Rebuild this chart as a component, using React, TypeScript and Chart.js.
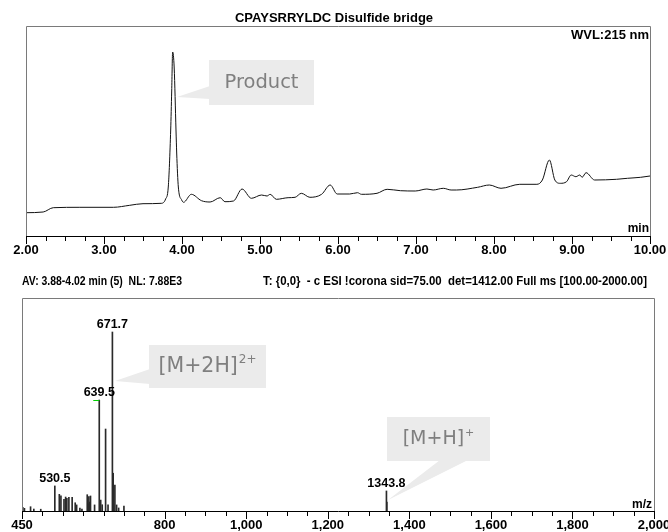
import React, { useEffect, useRef } from 'react';
import { Chart, registerables } from 'chart.js';

Chart.register(...registerables);

// ---------- Chromatogram (UV 215 nm) ----------
const chromTime = [
  2.0, 2.22, 2.35, 2.69, 3.12, 3.33, 3.5, 3.74, 3.79, 3.824, 3.855, 3.868, 3.88, 3.9, 3.923, 3.932, 3.953, 3.996,
  4.02, 4.12, 4.25, 4.36, 4.49, 4.55, 4.66, 4.77, 4.89, 5.02, 5.09, 5.13, 5.21, 5.36, 5.45, 5.53, 5.64, 5.79,
  5.9, 5.99, 6.15, 6.25, 6.3, 6.5, 6.63, 6.8, 6.99, 7.14, 7.22, 7.35, 7.45, 7.52, 7.79, 7.94, 8.09, 8.33, 8.55,
  8.62, 8.71, 8.78, 8.85, 8.93, 8.99, 9.05, 9.1, 9.13, 9.18, 9.29, 9.57, 9.71, 9.88, 10.0,
];
const chromSignal = [
  23.3, 24, 28.3, 28.7, 28.7, 30.7, 32.3, 32.7, 37, 49, 106, 145, 184, 168, 106, 83, 49, 36,
  33.7, 41.7, 35.3, 34, 38.3, 34.3, 35, 47, 37.7, 41, 40, 41.7, 36.7, 38.3, 38.7, 42.7, 38.7, 41.7,
  51, 42, 42, 43.3, 41.7, 42.7, 46.7, 45.3, 45, 47, 46, 47.7, 46, 46, 48.7, 51, 47.7, 51.7, 51.7,
  56, 76, 56, 52.7, 54.3, 61, 59.3, 61, 58.7, 63.3, 56, 56.7, 57.7, 58.7, 60,
];
const timeMajorTicks = [2, 3, 4, 5, 6, 7, 8, 9, 10];

// ---------- Mass spectrum ----------
const mzValues = [
  452, 456, 471, 479, 496, 530.5, 541.5, 545.5, 553, 557, 560, 565, 573, 580.5, 584, 592, 597,
  610, 612, 614, 616, 618, 628, 639.5, 643, 646.7, 655, 661, 671.7, 673.6, 677.8, 682, 687, 700,
  1343.8, 1344.8,
];
const mzAbundance = [
  2.1, 1.5, 2.4, 1.1, 1.0, 14.0, 9.3, 8.5, 6.5, 7.8, 7.1, 7.6, 7.6, 4.6, 3.4, 1.7, 1.1,
  9.1, 4.0, 8.0, 5.0, 8.4, 3.4, 62.0, 6.1, 3.5, 45.8, 3.4, 100, 21.1, 14.5, 3.4, 1.7, 2.8,
  11.2, 5.0,
];
const labelledPeaks = [530.5, 639.5, 671.7, 1343.8];
const mzMajorTicks = [450, 800, 1000, 1200, 1400, 1600, 1800, 2000];

const TITLE = 'CPAYSRRYLDC Disulfide bridge';
const WVL_LABEL = 'WVL:215 nm';
const HEADER_LEFT = 'AV: 3.88-4.02 min (5)  NL: 7.88E3';
const HEADER_RIGHT = 'T: {0,0}  - c ESI !corona sid=75.00  det=1412.00 Full ms [100.00-2000.00]';

const BOLD = "'Liberation Sans', Arial, sans-serif";
const CALLOUT_FONT = "'DejaVu Sans', Verdana, sans-serif";
const BORDER = '#7a7a7a';
const BOX = '#ebebeb';
const CALLOUT_TEXT = '#7f7f7f';

function drawText(ctx: CanvasRenderingContext2D, s: string, x: number, y: number, font: string,
  align: CanvasTextAlign, color = '#000', maxWidth?: number) {
  ctx.save();
  ctx.font = font;
  ctx.fillStyle = color;
  ctx.textAlign = align;
  ctx.textBaseline = 'middle';
  if (maxWidth) ctx.fillText(s, x, y, maxWidth); else ctx.fillText(s, x, y);
  ctx.restore();
}

function drawFrame(ctx: CanvasRenderingContext2D, a: any) {
  ctx.save();
  ctx.strokeStyle = BORDER;
  ctx.lineWidth = 1;
  ctx.beginPath();
  ctx.moveTo(Math.round(a.left) + 0.5, Math.round(a.bottom));
  ctx.lineTo(Math.round(a.left) + 0.5, Math.round(a.top) + 0.5);
  ctx.lineTo(Math.round(a.right) + 0.5, Math.round(a.top) + 0.5);
  ctx.lineTo(Math.round(a.right) + 0.5, Math.round(a.bottom));
  ctx.stroke();
  ctx.restore();
}

function drawTicks(ctx: CanvasRenderingContext2D, scale: any, bottom: number, majors: number[]) {
  ctx.save();
  ctx.strokeStyle = '#000';
  ctx.lineWidth = 1;
  ctx.beginPath();
  for (const t of scale.ticks) {
    const px = Math.round(scale.getPixelForValue(t.value)) + 0.5;
    const isMajor = majors.some((m) => Math.abs(m - t.value) < 1e-6);
    const len = isMajor ? 8 : 5;
    ctx.moveTo(px, Math.round(bottom));
    ctx.lineTo(px, Math.round(bottom) + len);
  }
  ctx.stroke();
  ctx.restore();
}

function drawCallout(ctx: CanvasRenderingContext2D, box: number[], wedge: number[][],
  parts: { text: string; sup?: string; size: number }) {
  const [x1, y1, x2, y2] = box.map(Math.round);
  ctx.save();
  ctx.fillStyle = BOX;
  ctx.beginPath();
  ctx.moveTo(wedge[0][0], wedge[0][1]);
  ctx.lineTo(wedge[1][0], wedge[1][1]);
  ctx.lineTo(wedge[2][0], wedge[2][1]);
  ctx.closePath();
  ctx.fill();
  ctx.fillRect(x1, y1, x2 - x1, y2 - y1);
  const mainFont = `${parts.size}px ${CALLOUT_FONT}`;
  const supFont = `${Math.round(parts.size * 0.6)}px ${CALLOUT_FONT}`;
  ctx.font = mainFont;
  const w1 = ctx.measureText(parts.text).width;
  ctx.font = supFont;
  const w2 = parts.sup ? ctx.measureText(parts.sup).width + 1 : 0;
  const total = w1 + w2;
  const cx = (x1 + x2) / 2;
  const cy = (y1 + y2) / 2;
  ctx.fillStyle = CALLOUT_TEXT;
  ctx.textBaseline = 'middle';
  ctx.textAlign = 'left';
  ctx.font = mainFont;
  ctx.fillText(parts.text, cx - total / 2, cy);
  if (parts.sup) {
    ctx.font = supFont;
    ctx.fillText(parts.sup, cx - total / 2 + w1 + 1, cy - parts.size * 0.33);
  }
  ctx.restore();
}

const chromPlugin = {
  id: 'chromDecor',
  afterDraw(chart: any) {
    const { ctx, chartArea: a, scales } = chart;
    const x = scales.x;
    const y = scales.y;
    drawFrame(ctx, a);
    drawTicks(ctx, x, a.bottom, timeMajorTicks);
    drawText(ctx, TITLE, chart.width / 2, a.top - 8, `bold 13px ${BOLD}`, 'center');
    drawText(ctx, WVL_LABEL, a.right - 1, a.top + 9, `bold 13px ${BOLD}`, 'right');
    drawText(ctx, 'min', a.right - 1, a.bottom - 7.5, `bold 12px ${BOLD}`, 'right');
    // "Product" callout
    const bx1 = x.getPixelForValue(4.346);
    const bx2 = x.getPixelForValue(5.692);
    const by1 = y.getPixelForValue(176);
    const by2 = y.getPixelForValue(131);
    drawCallout(ctx, [bx1, by1, bx2, by2], [
      [bx1 + 1, y.getPixelForValue(150)],
      [bx1 + 1, y.getPixelForValue(137)],
      [x.getPixelForValue(3.936), y.getPixelForValue(139)],
    ], { text: 'Product', size: 19.5 });
  },
};

const msPlugin = {
  id: 'msDecor',
  afterDraw(chart: any) {
    const { ctx, chartArea: a, scales } = chart;
    const x = scales.x;
    const y = scales.y;
    drawFrame(ctx, a);
    drawTicks(ctx, x, a.bottom, mzMajorTicks);
    drawText(ctx, HEADER_LEFT, a.left, a.top - 16, `bold 12px ${BOLD}`, 'left', '#000', 160);
    drawText(ctx, HEADER_RIGHT, a.left + 241, a.top - 16, `bold 12px ${BOLD}`, 'left', '#000', 384);
    drawText(ctx, 'm/z', a.right - 2, a.bottom - 6, `bold 12px ${BOLD}`, 'right');
    const meta = chart.getDatasetMeta(0);
    for (const mz of labelledPeaks) {
      const i = mzValues.indexOf(mz);
      const el = meta.data[i];
      drawText(ctx, mz.toFixed(1), el.x, el.y - 7, `bold 12.5px ${BOLD}`, 'center');
      if (mz === 639.5) {
        ctx.save();
        ctx.strokeStyle = '#00d000';
        ctx.lineWidth = 1;
        ctx.beginPath();
        ctx.moveTo(el.x - 6, Math.round(el.y) + 0.5);
        ctx.lineTo(el.x, Math.round(el.y) + 0.5);
        ctx.stroke();
        ctx.restore();
      }
    }
    // [M+2H]2+ callout
    const ax1 = x.getPixelForValue(761.5);
    const ax2 = x.getPixelForValue(1048.4);
    const ay1 = y.getPixelForValue(92.7);
    const ay2 = y.getPixelForValue(68.7);
    drawCallout(ctx, [ax1, ay1, ax2, ay2], [
      [ax1 + 1, y.getPixelForValue(79.3)],
      [ax1 + 1, y.getPixelForValue(70.9)],
      [x.getPixelForValue(678.1), y.getPixelForValue(72.6)],
    ], { text: '[M+2H]', sup: '2+', size: 20.5 });
    // [M+H]+ callout
    const cx1 = x.getPixelForValue(1345.2);
    const cx2 = x.getPixelForValue(1597.8);
    const cy1 = y.getPixelForValue(52.5);
    const cy2 = y.getPixelForValue(27.9);
    drawCallout(ctx, [cx1, cy1, cx2, cy2], [
      [x.getPixelForValue(1475.2), cy2 - 1],
      [x.getPixelForValue(1543.9), cy2 - 1],
      [x.getPixelForValue(1347.6), y.getPixelForValue(6.1)],
    ], { text: '[M+H]', sup: '+', size: 19 });
  },
};

function zeroPad(scale: any) {
  scale.paddingLeft = 0;
  scale.paddingRight = 0;
}

export default function App() {
  const topRef = useRef<HTMLCanvasElement | null>(null);
  const botRef = useRef<HTMLCanvasElement | null>(null);

  useEffect(() => {
    const topTicks: number[] = [];
    for (let v = 2; v <= 10.0001; v += 0.25) topTicks.push(Math.round(v * 100) / 100);
    const botTicks: number[] = [450];
    for (let v = 500; v <= 2000; v += 50) botTicks.push(v);

    const c1 = new Chart(topRef.current as HTMLCanvasElement, {
      type: 'line',
      data: {
        datasets: [{
          data: chromTime.map((t, i) => ({ x: t, y: chromSignal[i] })),
          borderColor: '#111',
          borderWidth: 1,
          pointRadius: 0,
          fill: false,
          cubicInterpolationMode: 'monotone',
        }],
      },
      options: {
        animation: false,
        responsive: false,
        layout: { padding: { top: 26, left: 26, right: 18, bottom: 0 } },
        plugins: { legend: { display: false }, tooltip: { enabled: false }, title: { display: false } },
        scales: {
          x: {
            type: 'linear', min: 2, max: 10,
            afterBuildTicks: (s: any) => { s.ticks = topTicks.map((v) => ({ value: v })); },
            afterFit: (s: any) => { s.height = 26; zeroPad(s); },
            ticks: {
              autoSkip: false, maxRotation: 0, padding: 7, color: '#000',
              font: { family: BOLD, size: 13, weight: 'bold' },
              callback: (v: any) => (timeMajorTicks.includes(Number(v)) ? Number(v).toFixed(2) : ''),
            },
            grid: { display: false, drawTicks: false },
            border: { display: true, color: '#000', width: 1 },
          },
          y: { display: false, min: 0, max: 210 },
        },
      } as any,
      plugins: [chromPlugin],
    });

    const c2 = new Chart(botRef.current as HTMLCanvasElement, {
      type: 'bar',
      data: {
        datasets: [{
          data: mzValues.map((m, i) => ({ x: m, y: mzAbundance[i] })),
          backgroundColor: '#2a2a2a',
          borderWidth: 0,
          barThickness: 1,
        }],
      },
      options: {
        animation: false,
        responsive: false,
        layout: { padding: { top: 36, left: 22, right: 14, bottom: 0 } },
        plugins: { legend: { display: false }, tooltip: { enabled: false }, title: { display: false } },
        scales: {
          x: {
            type: 'linear', min: 450, max: 2000, offset: false,
            afterBuildTicks: (s: any) => { s.ticks = botTicks.map((v) => ({ value: v })); },
            afterFit: (s: any) => { s.height = 21; zeroPad(s); },
            ticks: {
              autoSkip: false, maxRotation: 0, padding: 7, color: '#000',
              font: { family: BOLD, size: 13, weight: 'bold' },
              callback: (v: any) => (mzMajorTicks.includes(Number(v)) ? Number(v).toLocaleString('en-US') : ''),
            },
            grid: { display: false, drawTicks: false, offset: false },
            border: { display: true, color: '#000', width: 1 },
          },
          y: { display: false, min: 0, max: 119 },
        },
      } as any,
      plugins: [msPlugin],
    });

    return () => {
      c1.destroy();
      c2.destroy();
    };
  }, []);

  return (
    <div style={{ position: 'absolute', left: 0, top: 0, width: 668, height: 532, background: '#fff', overflow: 'hidden' }}>
      <canvas ref={topRef} width={668} height={262} style={{ position: 'absolute', left: 0, top: 0, width: 668, height: 262 }} />
      <canvas ref={botRef} width={668} height={270} style={{ position: 'absolute', left: 0, top: 262, width: 668, height: 270 }} />
    </div>
  );
}
